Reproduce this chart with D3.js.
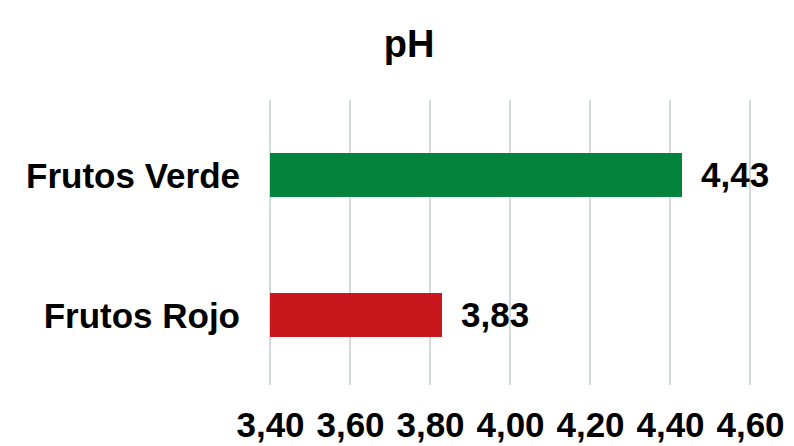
<!DOCTYPE html>
<html>
<head>
<meta charset="utf-8">
<script src="https://cdn.jsdelivr.net/npm/d3@7"></script>
<style>
  body { margin: 0; background: #fff; }
  svg { display: block; font-family: "Liberation Sans", Arial, sans-serif; font-weight: bold; }
</style>
</head>
<body>
<script>
// data
const categories = ["Frutos Verde", "Frutos Rojo"];
const values = [4.43, 3.83];
const barColors = ["#03833b", "#c8161d"];
const tickValues = [3.4, 3.6, 3.8, 4.0, 4.2, 4.4, 4.6];
const title = "pH";

const width = 794;
const height = 446;

// spanish style decimals: 3,40
const locale = d3.formatLocale({ decimal: ",", thousands: ".", grouping: [3], currency: ["", "€"] });
const fmt = locale.format(".2f");

const svg = d3
  .select("body")
  .append("svg")
  .attr("width", width)
  .attr("height", height);

const xScale = d3.scaleLinear().domain([3.4, 4.6]).range([270, 750]);
const yScale = d3
  .scaleBand()
  .domain(categories)
  .range([105, 385])
  .paddingInner(0.686)
  .paddingOuter(0.343);

// vertical grid lines
svg
  .append("g")
  .selectAll("line")
  .data(tickValues)
  .enter()
  .append("line")
  .attr("x1", (d) => xScale(d))
  .attr("x2", (d) => xScale(d))
  .attr("y1", 100)
  .attr("y2", 385)
  .attr("stroke", "#c5cfd3")
  .attr("stroke-width", 1.5);

// x axis, labels only
const xAxis = d3
  .axisBottom(xScale)
  .tickValues(tickValues)
  .tickSize(0)
  .tickPadding(0)
  .tickFormat(fmt);

svg
  .append("g")
  .attr("transform", "translate(0,437)")
  .call(xAxis)
  .call((g) => g.select(".domain").remove())
  .call((g) =>
    g
      .selectAll("text")
      .attr("dy", null)
      .attr("y", 0)
      .attr("fill", "#000")
      .style("font-size", "35px")
      .style("font-family", "'Liberation Sans', Arial, sans-serif")
      .style("font-weight", "bold")
  );

// y axis, category labels only
const yAxis = d3.axisLeft(yScale).tickSize(0).tickPadding(30);
svg
  .append("g")
  .attr("transform", "translate(270,0)")
  .call(yAxis)
  .call((g) => g.select(".domain").remove())
  .call((g) =>
    g
      .selectAll("text")
      .attr("fill", "#000")
      .attr("dy", "0.36em")
      .style("font-size", "35px")
      .style("font-family", "'Liberation Sans', Arial, sans-serif")
      .style("font-weight", "bold")
  );

// bars
const rows = categories.map((c, i) => ({ cat: c, val: values[i], color: barColors[i] }));

svg
  .append("g")
  .selectAll("rect")
  .data(rows)
  .enter()
  .append("rect")
  .attr("x", xScale(3.4))
  .attr("y", (d) => yScale(d.cat))
  .attr("width", (d) => xScale(d.val) - xScale(3.4))
  .attr("height", yScale.bandwidth())
  .attr("fill", (d) => d.color);

// value labels
svg
  .append("g")
  .selectAll("text")
  .data(rows)
  .enter()
  .append("text")
  .attr("x", (d) => xScale(d.val) + 19)
  .attr("y", (d) => yScale(d.cat) + yScale.bandwidth() / 2)
  .attr("dy", "0.34em")
  .style("font-size", "35px")
  .text((d) => fmt(d.val));

// title
svg
  .append("text")
  .attr("x", 409)
  .attr("y", 57)
  .attr("text-anchor", "middle")
  .style("font-size", "38px")
  .text(title);
</script>
</body>
</html>
